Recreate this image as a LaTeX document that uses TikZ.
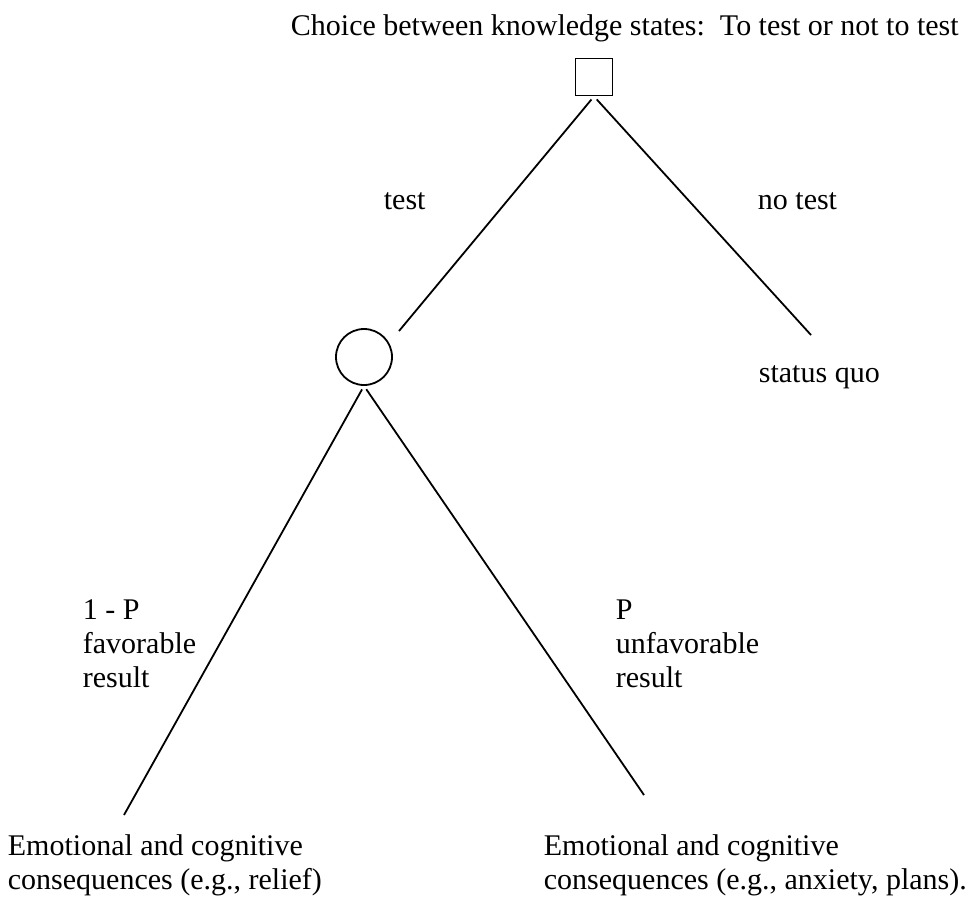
\documentclass[tikz,border=0pt]{standalone}
\usepackage{fontspec}
\setmainfont{Liberation Serif}
\usetikzlibrary{positioning}

\begin{document}
\begin{tikzpicture}[
    x=1pt, y=-1pt,
    font=\fontsize{30}{34}\selectfont,
    line width=1.8pt,
    choice/.style={
		rectangle,
		draw=black,
		minimum size=37pt,
		inner sep=0pt
	},
    chance/.style={
		circle,
		draw=black,
		minimum size=56pt,
		inner sep=0pt
	},
    txt/.style={
		anchor=base west,
		inner sep=0pt
	}
  ]
  \useasboundingbox (0,0) rectangle (973,898);
    % We start by placing the decision nodes
  \node [choice] (decide) at (594,77) {};
  \node [chance] (chance) at (364,357) {};

    % free ends of the branches
  \coordinate (testend) at (399,331);
  \coordinate (notestend) at (811,335);
  \coordinate (favend) at (124,815);
  \coordinate (unfavend) at (644,795);

  \draw [shorten <=4pt] (decide.south) -- (testend);
  \draw [shorten <=4pt] (decide.south) -- (notestend);
  \draw [shorten <=4pt] (chance.south) -- (favend);
  \draw [shorten <=4pt] (chance.south) -- (unfavend);

    % labels
  \node [txt] (title) at (290,35) {Choice between knowledge states:\ \ To test or not to test};
  \node [txt] (test) at (383,209) {test};
  \node [txt] (notest) at (757,209) {no test};
  \node [txt] (quo) at (758,382) {status quo};

  \node [txt] (fav) at (82,619)
 {%
 \begin{tabular}[t]{@{}l@{}}
  1 - P\\
  favorable\\
  result
 \end{tabular}
 };

  \node [txt] (unfav) at (615,619)
 {%
 \begin{tabular}[t]{@{}l@{}}
  P\\
  unfavorable\\
  result
 \end{tabular}
 };

  \node [txt] (relief) at (7,855)
 {%
 \begin{tabular}[t]{@{}l@{}}
  Emotional and cognitive\\
  consequences (e.g., relief)
 \end{tabular}
 };

  \node [txt] (anxiety) at (543,855)
 {%
 \begin{tabular}[t]{@{}l@{}}
  Emotional and cognitive\\
  consequences (e.g., anxiety, plans).
 \end{tabular}
 };

\end{tikzpicture}
\end{document}
